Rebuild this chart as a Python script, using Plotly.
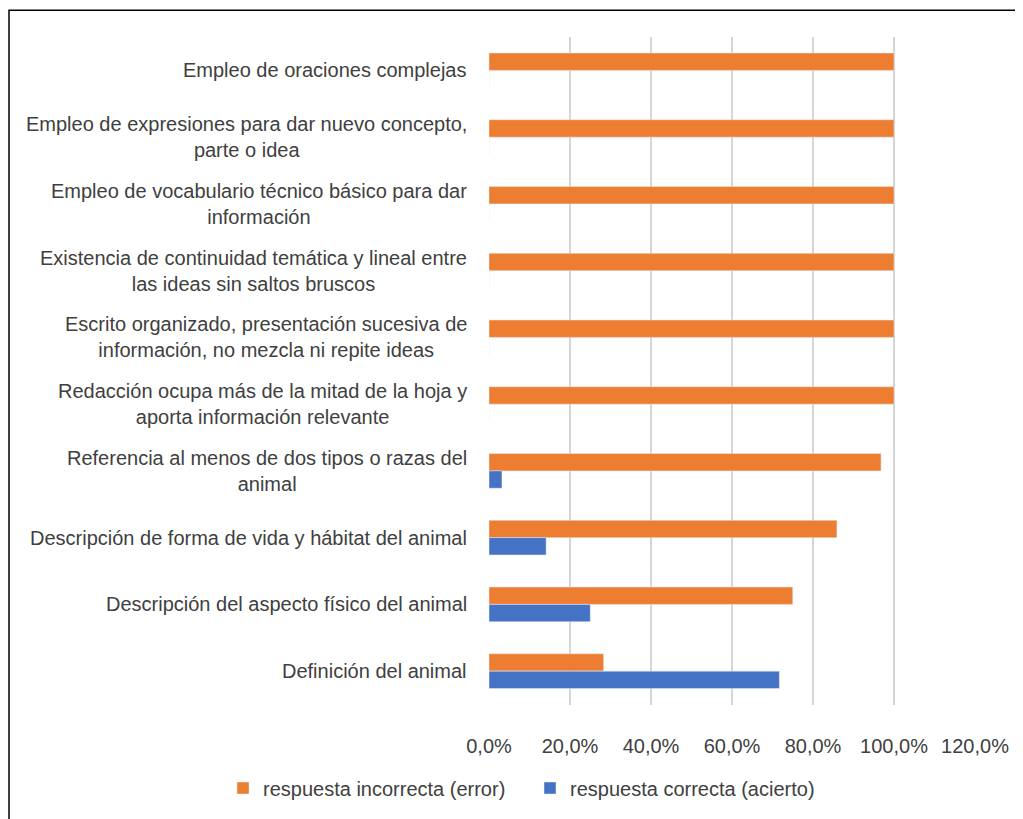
import plotly.graph_objects as go

categories = [
    "Empleo de oraciones complejas",
    "Empleo de expresiones para dar nuevo concepto,<br>parte o idea",
    "Empleo de vocabulario técnico básico para dar<br>información",
    "Existencia de continuidad temática y lineal entre<br>las ideas sin saltos bruscos",
    "Escrito organizado, presentación sucesiva de<br>información, no mezcla ni repite ideas",
    "Redacción ocupa más de la mitad de la hoja y<br>aporta información relevante",
    "Referencia al menos de dos tipos o razas del<br>animal",
    "Descripción de forma de vida y hábitat del animal",
    "Descripción del aspecto físico del animal",
    "Definición del animal",
]
incorrecta = [1.0, 1.0, 1.0, 1.0, 1.0, 1.0, 0.968, 0.859, 0.75, 0.283]
correcta = [0.0, 0.0, 0.0, 0.0, 0.0, 0.0, 0.032, 0.141, 0.25, 0.717]
series_names = ["respuesta incorrecta (error)", "respuesta correcta (acierto)"]
x_ticks = [0, 0.2, 0.4, 0.6, 0.8, 1.0, 1.2]

# page has an 8px body margin; figure is sized to fill the rest of the window
OFF = 8
W, H = 1023 - OFF, 819 - OFF
L, R, T, B = 489 - OFF, 48, 37 - OFF, 107
pw, ph = W - L - R, H - T - B

FONT = "Liberation Sans"
FS = 20
TXT = "#404040"

fig = go.Figure()
fig.add_trace(go.Bar(y=categories, x=incorrecta, name=series_names[0], orientation="h",
                     marker=dict(color="#ED7D31"), legend="legend", showlegend=True))
fig.add_trace(go.Bar(y=categories, x=correcta, name=series_names[1], orientation="h",
                     marker=dict(color="#4472C4"), legend="legend2", showlegend=True))

for c in categories:
    fig.add_annotation(x=0, xref="paper", y=c, yref="y", text=c, showarrow=False,
                       xanchor="right", yanchor="middle", align="center", xshift=-20,
                       font=dict(family=FONT, size=FS, color=TXT))

# outer border (left and top visible)
fig.add_shape(type="rect", xref="paper", yref="paper",
              x0=(9 - OFF - L) / pw, x1=(W + 20 - L) / pw,
              y0=(T + ph - (H + 20)) / ph, y1=(T + ph - (10 - OFF)) / ph,
              line=dict(color="black", width=1.5), fillcolor="rgba(0,0,0,0)", layer="above")

leg_common = dict(orientation="h", xref="container", yref="container",
                  xanchor="left", yanchor="middle", y=1 - (788 - OFF) / H,
                  itemwidth=30, font=dict(family=FONT, size=FS, color=TXT),
                  bgcolor="rgba(0,0,0,0)", visible=True)

fig.update_layout(
    width=W, height=H,
    margin=dict(l=L, r=R, t=T, b=B),
    paper_bgcolor="white", plot_bgcolor="white",
    showlegend=True,
    barmode="group", bargap=0.48, bargroupgap=0,
    separators=",.",
    font=dict(family=FONT, size=FS, color=TXT),
    legend=dict(leg_common, x=(223 - OFF) / W),
    legend2=dict(leg_common, x=(530 - OFF) / W),
    xaxis=dict(range=[0, 1.2], tickvals=x_ticks, tickformat=".1%",
               showgrid=True, gridcolor="#d6d6d6", gridwidth=1.5,
               zeroline=False, showline=False, ticks="", ticklabelstandoff=27,
               tickfont=dict(family=FONT, size=FS, color=TXT)),
    yaxis=dict(autorange="reversed", showticklabels=False, showgrid=False,
               zeroline=False, showline=False, ticks=""),
)

fig.write_html("out.html")
